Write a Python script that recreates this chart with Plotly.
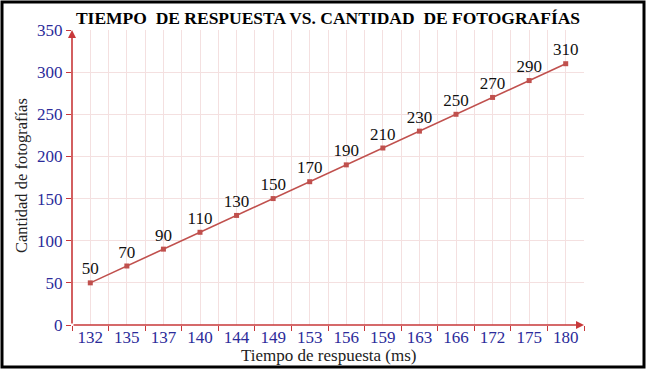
import plotly.graph_objects as go

categories = ["132", "135", "137", "140", "144", "149", "153", "156", "159", "163", "166", "172", "175", "180"]
values = [50, 70, 90, 110, 130, 150, 170, 190, 210, 230, 250, 270, 290, 310]
y_ticks = [0, 50, 100, 150, 200, 250, 300, 350]

RED = "#c0504d"
AXIS_RED = "#c8383a"
BLUE = "#2b2b9a"
GRID = "#f4e0e0"
FONT = "Liberation Serif"

xpos = list(range(len(categories)))

fig = go.Figure()
fig.add_trace(go.Scatter(
    x=xpos, y=values, mode="lines+markers+text",
    text=[str(v) for v in values], textposition="top center",
    textfont=dict(family=FONT, size=17, color="#111111"),
    line=dict(color=RED, width=1.6),
    marker=dict(symbol="square", size=5, color=RED),
    cliponaxis=False, showlegend=False,
))

L, R, T, B = 72, 63, 30, 45
W, H = 647, 370
pw, ph = W - L - R, H - T - B

fig.update_layout(
    width=W, height=H,
    margin=dict(l=L, r=R, t=T, b=B, autoexpand=False),
    paper_bgcolor="white", plot_bgcolor="white",
    title=dict(text="<b>TIEMPO  DE RESPUESTA VS. CANTIDAD  DE FOTOGRAFÍAS</b>",
               font=dict(family=FONT, size=17.5, color="black"),
               x=328 / W, xanchor="center", y=1 - 18 / H, yanchor="middle"),
    xaxis=dict(
        range=[-0.5, 13.5], tickmode="array", tickvals=xpos, ticktext=categories,
        ticks="", showgrid=True, gridcolor=GRID, gridwidth=1, automargin=False,
        tickfont=dict(family=FONT, size=17, color=BLUE),
        showline=False, zeroline=False,
        minor=dict(tickmode="linear", tick0=-0.5, dtick=1, ticks="outside",
                   ticklen=5, tickcolor=AXIS_RED, showgrid=True, gridcolor=GRID),
    ),
    yaxis=dict(
        range=[0, 350], tickmode="array", tickvals=y_ticks,
        ticks="outside", ticklen=5, tickcolor=AXIS_RED, automargin=False,
        showgrid=True, gridcolor=GRID, gridwidth=1,
        tickfont=dict(family=FONT, size=17, color=BLUE),
        showline=False, zeroline=False,
    ),
)

# axis titles
fig.add_annotation(text="Tiempo de respuesta (ms)", xref="paper", yref="paper",
                   x=(329 - L) / pw, y=-(355 - T - ph) / ph, xanchor="center", yanchor="middle",
                   showarrow=False, font=dict(family=FONT, size=17, color="#222222"))
fig.add_annotation(text="Cantidad de fotografías", xref="paper", yref="paper",
                   x=(21 - L) / pw, y=(T + ph - 176) / ph, xanchor="center", yanchor="middle",
                   textangle=-90, showarrow=False, font=dict(family=FONT, size=16.5, color="#222222"))

# axis arrows
fig.add_annotation(x=-0.5, y=350, ax=-0.5, ay=0, xref="x", yref="y", axref="x", ayref="y",
                   showarrow=True, arrowhead=2, arrowsize=1, arrowwidth=1.6, arrowcolor=AXIS_RED, text="")
fig.add_annotation(x=13.5, y=0, ax=-0.5, ay=0, xref="x", yref="y", axref="x", ayref="y",
                   showarrow=True, arrowhead=2, arrowsize=1, arrowwidth=1.6, arrowcolor=AXIS_RED, text="")

# outer black frame
fig.add_shape(type="rect", xref="paper", yref="paper",
              x0=(2 - L) / pw, x1=(W - 3 - L) / pw, y0=-(H - 3 - T - ph) / ph, y1=1 + (T - 2) / ph,
              line=dict(color="black", width=3), layer="above")

fig.write_html("out.html", config={"displayModeBar": False},
               post_script="document.body.style.margin='0';document.body.style.overflow='hidden';")
